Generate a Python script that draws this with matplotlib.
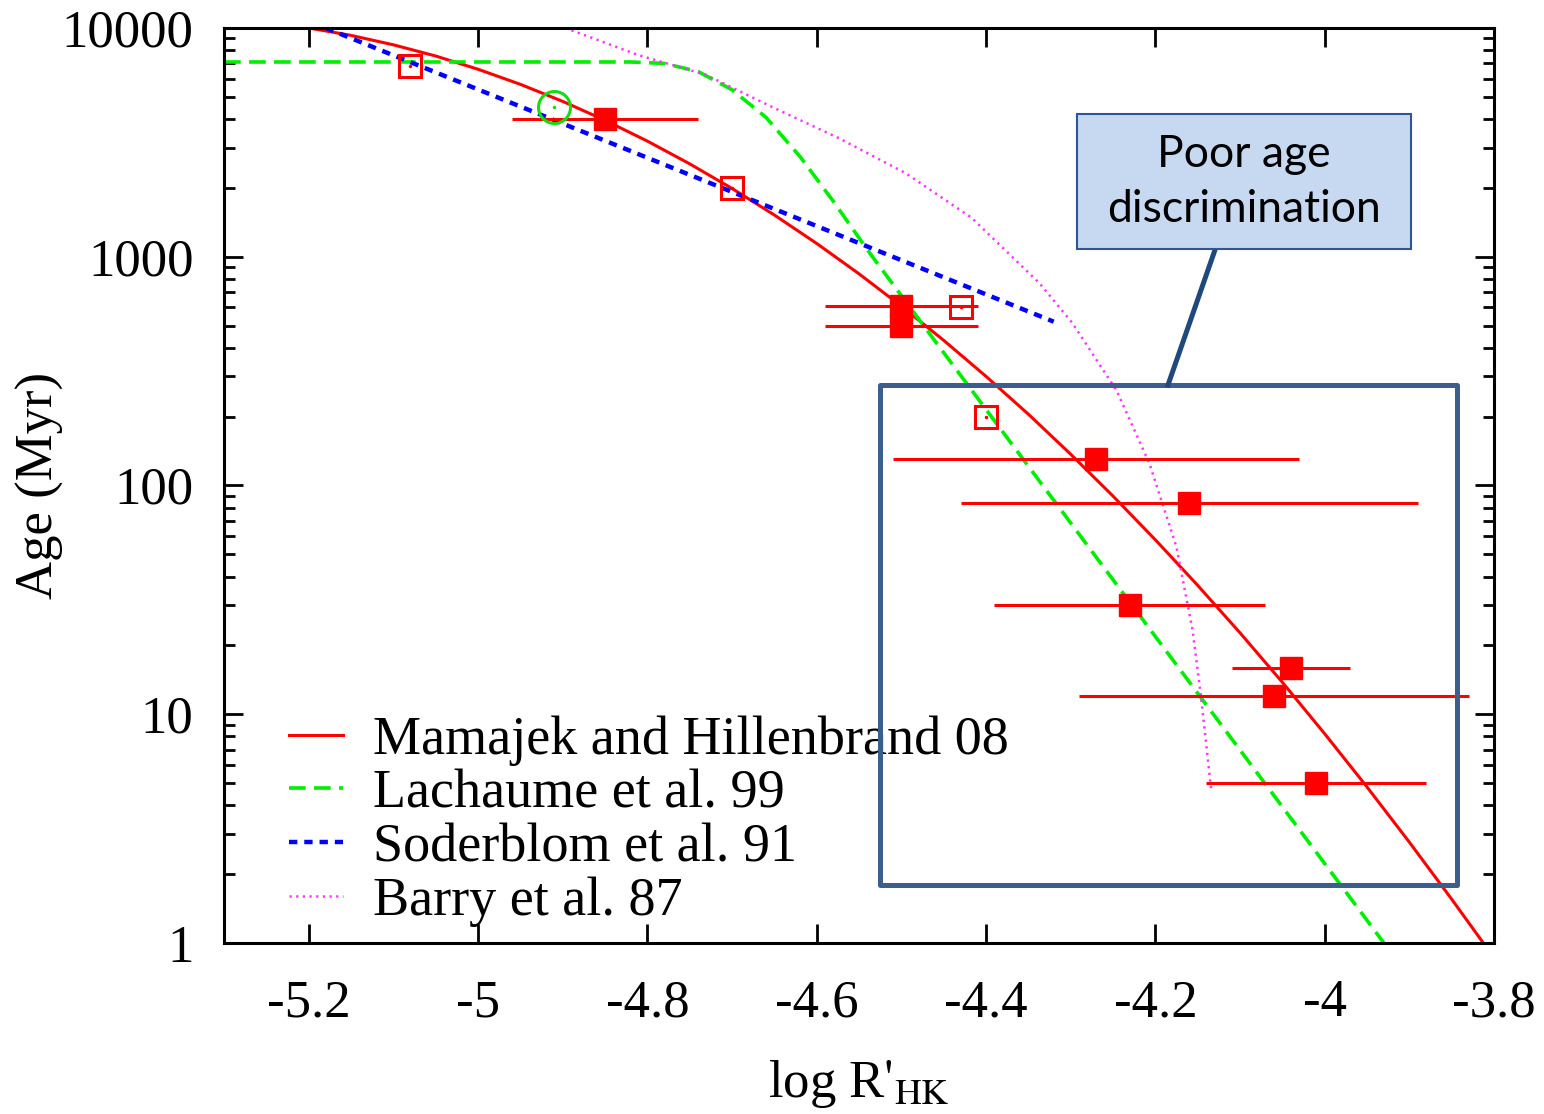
import matplotlib
matplotlib.use('Agg')
import matplotlib.pyplot as plt
from matplotlib.patches import Rectangle
from matplotlib.lines import Line2D
from matplotlib.ticker import FixedLocator, LogLocator, NullFormatter

# age-activity relations (x = log R'HK, age in Myr)
mh_x = [-5.20, -5.15, -5.10, -5.05, -5.00, -4.95, -4.90, -4.85, -4.80, -4.75, -4.70, -4.65,
        -4.60, -4.55, -4.50, -4.45, -4.40, -4.35, -4.30, -4.25, -4.20, -4.15, -4.10, -4.05,
        -4.00, -3.95, -3.90, -3.85, -3.81]
mh_age = [10000, 9280, 8440, 7540, 6600, 5670, 4776, 3948, 3202, 2547, 1988, 1522,
          1143, 842, 608, 431, 300, 205, 137, 89.9, 57.9, 36.6, 22.7, 13.8,
          8.22, 4.81, 2.76, 1.555, 0.97]

lach_x = [-5.30, -4.82, -4.78, -4.74, -4.70, -4.66, -4.62, -4.58, -4.54, -4.50, -4.46, -3.93]
lach_age = [7100, 7100, 7000, 6450, 5370, 4070, 2750, 1740, 1070, 676, 427, 1.0]

sod_x = [-5.18, -4.32]
sod_age = [10000, 520]

barry_x = [-4.897, -4.811, -4.731, -4.653, -4.574, -4.495, -4.417, -4.337, -4.298, -4.246,
           -4.207, -4.175, -4.156, -4.146, -4.134]
barry_age = [10000, 7620, 6240, 4520, 3300, 2320, 1480, 767, 513, 261,
             125, 53.8, 23.3, 11.9, 4.67]

# clusters / stars
filled_x = [-4.85, -4.50, -4.50, -4.27, -4.16, -4.23, -4.04, -4.06, -4.01]
filled_age = [4000, 610, 500, 130, 84, 30, 16, 12, 5]
filled_xerr = [0.11, 0.09, 0.09, 0.24, 0.27, 0.16, 0.07, 0.23, 0.13]

open_x = [-5.08, -4.70, -4.43, -4.40]
open_age = [6800, 2000, 600, 200]

sun_x = [-4.91]
sun_age = [4500]

legend_labels = ['Mamajek and Hillenbrand 08', 'Lachaume et al. 99',
                 'Soderblom et al. 91', 'Barry et al. 87']
xtick_vals = [-5.2, -5.0, -4.8, -4.6, -4.4, -4.2, -4.0, -3.8]
xtick_labels = ['-5.2', '-5', '-4.8', '-4.6', '-4.4', '-4.2', '-4', '-3.8']
ytick_vals = [1, 10, 100, 1000, 10000]
ytick_labels = ['1', '10', '100', '1000', '10000']

plt.rcParams['font.family'] = ['Liberation Serif', 'DejaVu Serif']
plt.rcParams['mathtext.fontset'] = 'stix'
plt.rcParams['axes.unicode_minus'] = False
plt.rcParams['lines.scale_dashes'] = False


def main():
    fig = plt.figure(figsize=(15.44, 11.14), dpi=100)
    ax = fig.add_axes([0.1451, 0.1535, 0.8225, 0.8214])
    ax.set_yscale('log')

    red, green, blue, pink = '#ff0000', '#00ee00', '#0000ff', '#ff33ff'
    l1, = ax.plot(mh_x, mh_age, color=red, lw=2.2, label=legend_labels[0])
    l2, = ax.plot(lach_x, lach_age, color=green, lw=2.6, dashes=(12, 6), label=legend_labels[1])
    l3, = ax.plot(sod_x, sod_age, color=blue, lw=3.2, dashes=(6, 5), label=legend_labels[2])
    l4, = ax.plot(barry_x, barry_age, color=pink, lw=1.8, dashes=(1.6, 3.2), label=legend_labels[3])

    ax.errorbar(filled_x, filled_age, xerr=filled_xerr, fmt='s', color=red, ms=16.5,
                elinewidth=2.2, capsize=0, zorder=4)
    ax.plot(open_x, open_age, 's', mfc='none', mec=red, ms=16.5, mew=2.2, zorder=4)
    ax.plot(open_x, open_age, '.', color=red, ms=3, zorder=4)
    ax.plot(sun_x, sun_age, 'o', mfc='none', mec='#11dd11', ms=23, mew=2.2, zorder=4)
    ax.plot(sun_x, sun_age, '.', color='#11dd11', ms=3, zorder=4)

    ax.set_xlim(-5.3, -3.8)
    ax.set_ylim(1, 10000)
    ax.xaxis.set_major_locator(FixedLocator(xtick_vals))
    ax.set_xticklabels(xtick_labels)
    ax.yaxis.set_major_locator(FixedLocator(ytick_vals))
    ax.set_yticklabels(ytick_labels)
    ax.yaxis.set_minor_locator(LogLocator(base=10, subs=range(2, 10)))
    ax.yaxis.set_minor_formatter(NullFormatter())
    ax.tick_params(axis='both', which='major', direction='in', length=14, width=2,
                   top=True, right=True, labelsize=38, colors='black')
    ax.tick_params(axis='y', which='major', pad=22)
    ax.tick_params(axis='x', which='major', pad=26)
    ax.tick_params(axis='y', which='minor', direction='in', length=8, width=2, right=True)
    for sp in ax.spines.values():
        sp.set_linewidth(2.2)

    ax.set_ylabel('Age (Myr)', fontsize=38, labelpad=-2)
    ax.set_xlabel(r"log R$'_{\rm HK}$", fontsize=38, labelpad=22)

    ax.legend(handles=[l1, l2, l3, l4], loc='upper left', bbox_to_anchor=(0.051, 0.249),
              frameon=False, fontsize=39, handlelength=1.0, handletextpad=0.55,
              labelspacing=0.06, borderpad=0, borderaxespad=0)

    # "poor age discrimination" callout
    ax.add_patch(Rectangle((0.5165, 0.0634), 0.4544, 0.5464, transform=ax.transAxes,
                           fill=False, edgecolor='#3b5e8c', lw=3.6, zorder=6,
                           clip_on=False, joinstyle='round'))
    ax.add_line(Line2D([0.7803, 0.7433], [0.7574, 0.6098], transform=ax.transAxes,
                       color='#1f497d', lw=3.6, zorder=6, clip_on=False))
    ax.add_patch(Rectangle((0.6717, 0.7585), 0.2629, 0.1475, transform=ax.transAxes,
                           facecolor='#c6d9f1', edgecolor='#2f5597', lw=1.5, zorder=7,
                           clip_on=False))
    ax.text(0.8031, 0.8317, 'Poor age\ndiscrimination', transform=ax.transAxes,
            ha='center', va='center', fontsize=32, family=['Lato', 'DejaVu Sans'],
            linespacing=1.4, zorder=8)

    fig.savefig('out.png', dpi=100)


if __name__ == '__main__':
    main()
